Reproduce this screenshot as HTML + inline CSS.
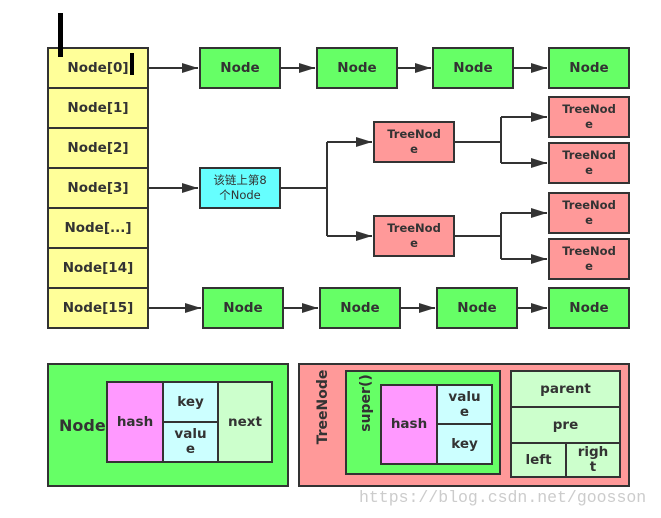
<!DOCTYPE html>
<html><head><meta charset="utf-8"><style>
body{margin:0;width:661px;height:518px;background:#fff;position:relative;overflow:hidden;font-family:"DejaVu Sans","Noto Sans CJK SC",sans-serif;}
.b{position:absolute;box-sizing:border-box;border:2px solid #333;display:flex;align-items:center;justify-content:center;text-align:center;font-weight:bold;color:#333;font-size:13.5px;line-height:15px;}
.y{background:#ffff99}.g{background:#66ff66}.r{background:#ff9999}.c{background:#66ffff}.p{background:#ff99ff}.lc{background:#ccffff}.lg{background:#ccffcc}
.s{font-size:11.5px}
svg{position:absolute;left:0;top:0}
</style></head><body>
<div class="b y" style="left:47px;top:47px;width:102px;height:42px">Node[0]</div>
<div class="b y" style="left:47px;top:87px;width:102px;height:42px">Node[1]</div>
<div class="b y" style="left:47px;top:127px;width:102px;height:42px">Node[2]</div>
<div class="b y" style="left:47px;top:167px;width:102px;height:42px">Node[3]</div>
<div class="b y" style="left:47px;top:207px;width:102px;height:42px">Node[...]</div>
<div class="b y" style="left:47px;top:247px;width:102px;height:42px">Node[14]</div>
<div class="b y" style="left:47px;top:287px;width:102px;height:42px">Node[15]</div>
<div style="position:absolute;left:58px;top:13px;width:5px;height:44px;background:#000"></div>
<div style="position:absolute;left:130px;top:53px;width:4px;height:22px;background:#000"></div>

<div class="b g" style="left:199px;top:47px;width:82px;height:42px">Node</div>
<div class="b g" style="left:316px;top:47px;width:82px;height:42px">Node</div>
<div class="b g" style="left:432px;top:47px;width:82px;height:42px">Node</div>
<div class="b g" style="left:548px;top:47px;width:82px;height:42px">Node</div>
<div class="b g" style="left:202px;top:287px;width:82px;height:42px">Node</div>
<div class="b g" style="left:319px;top:287px;width:82px;height:42px">Node</div>
<div class="b g" style="left:436px;top:287px;width:82px;height:42px">Node</div>
<div class="b g" style="left:548px;top:287px;width:82px;height:42px">Node</div>

<div class="b c s" style="left:199px;top:167px;width:82px;height:42px;font-weight:normal">该链上第8<br>个Node</div>
<div class="b r s" style="left:373px;top:121px;width:82px;height:42px">TreeNod<br>e</div>
<div class="b r s" style="left:373px;top:215px;width:82px;height:42px">TreeNod<br>e</div>
<div class="b r s" style="left:548px;top:96px;width:82px;height:42px">TreeNod<br>e</div>
<div class="b r s" style="left:548px;top:142px;width:82px;height:42px">TreeNod<br>e</div>
<div class="b r s" style="left:548px;top:192px;width:82px;height:42px">TreeNod<br>e</div>
<div class="b r s" style="left:548px;top:238px;width:82px;height:42px">TreeNod<br>e</div>

<svg width="661" height="518"><defs><marker id="a" markerWidth="16" markerHeight="10" refX="16" refY="5" orient="auto" markerUnits="userSpaceOnUse"><path d="M0,0L16,5L0,10z" fill="#333"/></marker></defs>
<g stroke="#333" stroke-width="2" fill="none">
<path d="M149,68H198" marker-end="url(#a)"/><path d="M281,68H315" marker-end="url(#a)"/><path d="M398,68H431" marker-end="url(#a)"/><path d="M514,68H547" marker-end="url(#a)"/>
<path d="M149,308H201" marker-end="url(#a)"/><path d="M284,308H318" marker-end="url(#a)"/><path d="M401,308H435" marker-end="url(#a)"/><path d="M518,308H547" marker-end="url(#a)"/>
<path d="M149,188H198" marker-end="url(#a)"/>
<path d="M281,188H327"/><path d="M327,142V236"/><path d="M327,142H372" marker-end="url(#a)"/><path d="M327,236H372" marker-end="url(#a)"/>
<path d="M455,142H501"/><path d="M501,117V163"/><path d="M501,117H547" marker-end="url(#a)"/><path d="M501,163H547" marker-end="url(#a)"/>
<path d="M455,236H501"/><path d="M501,213V259"/><path d="M501,213H547" marker-end="url(#a)"/><path d="M501,259H547" marker-end="url(#a)"/>
</g></svg>

<div class="b g" style="left:47px;top:363px;width:242px;height:124px;justify-content:flex-start;padding-left:10px;font-size:16px">Node</div>
<div class="b p" style="left:106px;top:381px;width:58px;height:82px">hash</div>
<div class="b lc" style="left:162px;top:381px;width:57px;height:42px">key</div>
<div class="b lc" style="left:162px;top:421px;width:57px;height:42px">valu<br>e</div>
<div class="b lg" style="left:217px;top:381px;width:56px;height:82px">next</div>

<div class="b r" style="left:298px;top:363px;width:332px;height:124px"></div>
<div style="position:absolute;left:323px;top:407px;transform:translate(-50%,-50%) rotate(-90deg);font-weight:bold;color:#333;font-size:14px">TreeNode</div>
<div class="b g" style="left:345px;top:370px;width:156px;height:105px"></div>
<div style="position:absolute;left:366px;top:403px;transform:translate(-50%,-50%) rotate(-90deg);font-weight:bold;color:#333;font-size:14px">super()</div>
<div class="b p" style="left:380px;top:384px;width:58px;height:81px">hash</div>
<div class="b lc" style="left:436px;top:384px;width:57px;height:41px">valu<br>e</div>
<div class="b lc" style="left:436px;top:423px;width:57px;height:42px">key</div>
<div class="b lg" style="left:510px;top:370px;width:111px;height:38px">parent</div>
<div class="b lg" style="left:510px;top:406px;width:111px;height:38px">pre</div>
<div class="b lg" style="left:510px;top:442px;width:57px;height:36px">left</div>
<div class="b lg" style="left:565px;top:442px;width:56px;height:36px">righ<br>t</div>
<div style="position:absolute;left:359px;top:488px;font-family:'Liberation Mono',monospace;font-size:16.5px;color:#ccc">https://blog.csdn.net/goosson</div>
</body></html>
